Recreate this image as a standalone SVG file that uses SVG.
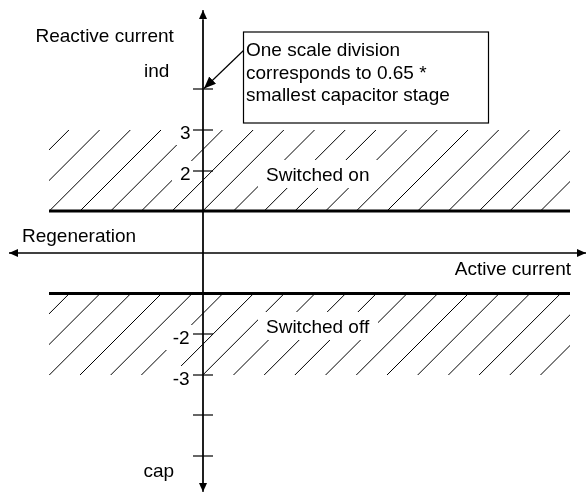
<svg xmlns="http://www.w3.org/2000/svg" width="586" height="492" viewBox="0 0 586 492">
<style>
text{font-family:"Liberation Sans",Arial,sans-serif;font-size:19px;fill:#000}
.ax{stroke:#000;stroke-width:1.3;fill:none}
.thick{stroke:#000;stroke-width:3.2;fill:none}
.tick{stroke:#000;stroke-width:1.2}
.hatch{stroke:#000;stroke-width:1;fill:none}
</style>
<defs>
<marker id="ah" markerWidth="10" markerHeight="10" refX="9" refY="4" orient="auto" markerUnits="userSpaceOnUse"><path d="M0,0 L9,4 L0,8 z" fill="#000"/></marker>
<marker id="ah2" markerWidth="14" markerHeight="12" refX="12" refY="5" orient="auto" markerUnits="userSpaceOnUse"><path d="M0,0 L12,5 L0,10 z" fill="#000"/></marker>
<clipPath id="cu"><rect x="49" y="130" width="521" height="81"/></clipPath>
<clipPath id="cl"><rect x="49" y="294" width="521" height="81"/></clipPath>
<path id="hl" d="M-12.1,211 l81,-81 M18.6,211 l81,-81 M49.3,211 l81,-81 M80,211 l81,-81 M110.7,211 l81,-81 M141.4,211 l81,-81 M172.1,211 l81,-81 M202.8,211 l81,-81 M233.5,211 l81,-81 M264.2,211 l81,-81 M294.9,211 l81,-81 M325.6,211 l81,-81 M356.3,211 l81,-81 M387,211 l81,-81 M417.7,211 l81,-81 M448.4,211 l81,-81 M479.1,211 l81,-81 M509.8,211 l81,-81 M540.5,211 l81,-81"/>
<mask id="gaps" maskUnits="userSpaceOnUse" x="0" y="0" width="586" height="492">
<rect x="0" y="0" width="586" height="492" fill="#fff"/>
<rect x="172" y="120" width="24" height="25" fill="#000"/>
<rect x="172" y="161" width="24" height="25" fill="#000"/>
<rect x="258" y="160" width="119" height="28" fill="#000"/>
<rect x="166" y="325" width="31" height="25" fill="#000"/>
<rect x="166" y="366" width="31" height="14" fill="#000"/>
<rect x="258" y="312" width="120" height="28" fill="#000"/>
</mask>
</defs>
<g id="hatching" mask="url(#gaps)">
<g clip-path="url(#cu)"><use href="#hl" class="hatch"/></g>
<g clip-path="url(#cl)"><use href="#hl" class="hatch" transform="translate(0,164)"/></g>
</g>
<g id="connectors">
<line class="ax" x1="203" y1="490" x2="203" y2="10" marker-end="url(#ah)"/>
<line class="ax" x1="203" y1="20" x2="203" y2="492" marker-end="url(#ah)"/>
<line class="ax" x1="203" y1="253" x2="9" y2="253" marker-end="url(#ah)"/>
<line class="ax" x1="203" y1="253" x2="586" y2="253" marker-end="url(#ah)"/>
<line x1="243.5" y1="50.5" x2="204" y2="88.5" stroke="#000" stroke-width="1.2" marker-end="url(#ah2)"/>
</g>
<g id="limits">
<line class="thick" x1="49" y1="211" x2="570" y2="211"/>
<line class="thick" x1="49" y1="293.5" x2="570" y2="293.5"/>
</g>
<g id="ticks">
<line class="tick" x1="193" y1="89" x2="213" y2="89"/>
<line class="tick" x1="193" y1="130" x2="213" y2="130"/>
<line class="tick" x1="193" y1="171" x2="213" y2="171"/>
<line class="tick" x1="193" y1="334" x2="213" y2="334"/>
<line class="tick" x1="193" y1="375" x2="213" y2="375"/>
<line class="tick" x1="193" y1="415" x2="213" y2="415"/>
<line class="tick" x1="193" y1="456" x2="213" y2="456"/>
<text x="180" y="139">3</text>
<text x="180" y="180">2</text>
<text x="172.7" y="344">-2</text>
<text x="172.7" y="385">-3</text>
</g>
<g id="axis-labels">
<text x="35.5" y="42">Reactive current</text>
<text x="144" y="77">ind</text>
<text x="143.5" y="477">cap</text>
<text x="22" y="242">Regeneration</text>
<text x="571" y="275" text-anchor="end">Active current</text>
</g>
<g id="note">
<rect x="243.5" y="32" width="245" height="91" fill="#fff" stroke="#000" stroke-width="1.2"/>
<text x="246" y="56">One scale division</text>
<text x="246" y="79">corresponds to 0.65 *</text>
<text x="246" y="101">smallest capacitor stage</text>
</g>
<g id="region-on"><text x="266" y="181">Switched on</text></g>
<g id="region-off"><text x="266" y="333">Switched off</text></g>
</svg>
